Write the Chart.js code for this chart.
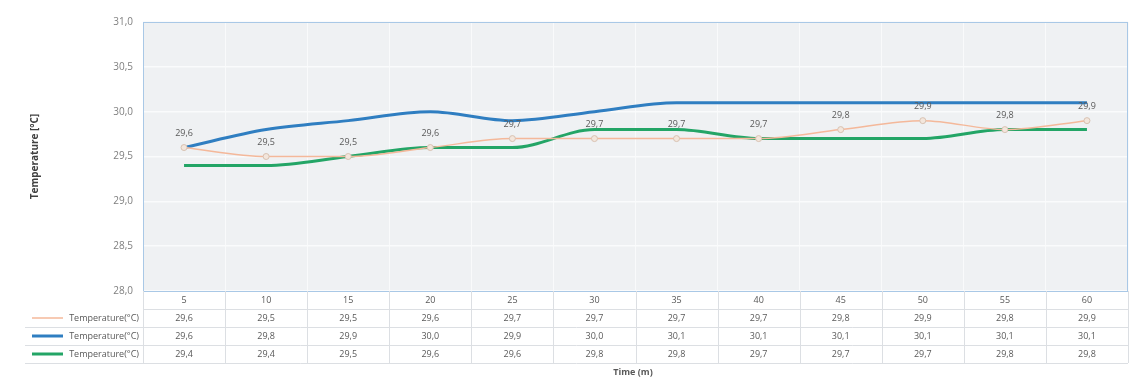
<!DOCTYPE html>
<html>
<head>
<meta charset="utf-8">
<script src="https://cdn.jsdelivr.net/npm/chart.js@4/dist/chart.umd.min.js"></script>
<style>
  html, body { margin: 0; padding: 0; background: #ffffff; }
  #wrap { width: 1143px; height: 383px; position: relative; }
</style>
</head>
<body>
<div id="wrap"><canvas id="chart" width="1143" height="383"></canvas></div>
<script>
// Sampling times (minutes)
const times = ['5', '10', '15', '20', '25', '30', '35', '40', '45', '50', '55', '60'];

// Three temperature probes, °C
const tempA = [29.6, 29.5, 29.5, 29.6, 29.7, 29.7, 29.7, 29.7, 29.8, 29.9, 29.8, 29.9];
const tempB = [29.6, 29.8, 29.9, 30.0, 29.9, 30.0, 30.1, 30.1, 30.1, 30.1, 30.1, 30.1];
const tempC = [29.4, 29.4, 29.5, 29.6, 29.6, 29.8, 29.8, 29.7, 29.7, 29.7, 29.8, 29.8];

const seriesNames = ['Temperature(°C)', 'Temperature(°C)', 'Temperature(°C)'];

// Y axis range and step
const yMin = 28.0;
const yMax = 31.0;
const yStep = 0.5;

const FONT = '"Open Sans", "Liberation Sans", sans-serif';
const colA = '#f4b89a';
const colB = '#2f7ec1';
const colC = '#23a566';

const fmt = v => v.toFixed(1).replace('.', ',');

// Shaded plot background and light blue frame
const plotFrame = {
  id: 'plotFrame',
  beforeDatasetsDraw(chart) {
    const a = chart.chartArea, ctx = chart.ctx;
    ctx.save();
    ctx.strokeStyle = '#a9c8e6';
    ctx.lineWidth = 1;
    ctx.strokeRect(a.left + 0.5, a.top + 0.5, a.right - a.left - 1, a.bottom - a.top);
    ctx.restore();
  },
  beforeDraw(chart) {
    const a = chart.chartArea, ctx = chart.ctx;
    ctx.save();
    ctx.fillStyle = '#eff1f3';
    ctx.fillRect(a.left, a.top, a.right - a.left, a.bottom - a.top);
    ctx.restore();
  }
};

// Value labels above the first series
const pointLabels = {
  id: 'pointLabels',
  afterDatasetsDraw(chart) {
    const ctx = chart.ctx;
    const meta = chart.getDatasetMeta(0);
    ctx.save();
    ctx.font = '9px ' + FONT;
    ctx.fillStyle = '#595959';
    ctx.textAlign = 'center';
    ctx.textBaseline = 'middle';
    meta.data.forEach((pt, i) => {
      ctx.fillText(fmt(chart.data.datasets[0].data[i]), pt.x, pt.y - 14);
    });
    ctx.restore();
  }
};

// Data table beneath the plot with legend keys
const dataTable = {
  id: 'dataTable',
  afterDraw(chart) {
    const ctx = chart.ctx, x = chart.scales.x, a = chart.chartArea;
    const n = times.length;
    const colW = (a.right - a.left) / n;
    const rowH = 18;
    const top = a.bottom;
    const legendLeft = 25;
    const rows = [times, tempA.map(fmt), tempB.map(fmt), tempC.map(fmt)];
    const swatch = [null, { c: colA, w: 1.5 }, { c: colB, w: 3 }, { c: colC, w: 3 }];

    ctx.save();
    ctx.strokeStyle = '#dcdfe3';
    ctx.lineWidth = 1;
    // horizontal rules
    for (let r = 1; r <= rows.length; r++) {
      const y = Math.round(top + r * rowH) + 0.5;
      ctx.beginPath();
      ctx.moveTo(r === 1 ? a.left : legendLeft, y);
      ctx.lineTo(a.right, y);
      ctx.stroke();
    }
    // vertical rules
    for (let i = 0; i <= n; i++) {
      const xx = Math.round(a.left + i * colW) + 0.5;
      ctx.beginPath();
      ctx.moveTo(xx, top);
      ctx.lineTo(xx, top + rows.length * rowH);
      ctx.stroke();
    }

    ctx.font = '9px ' + FONT;
    ctx.fillStyle = '#595959';
    ctx.textBaseline = 'middle';
    rows.forEach((row, r) => {
      const cy = top + r * rowH + rowH / 2;
      ctx.textAlign = 'center';
      row.forEach((txt, i) => {
        ctx.fillText(txt, x.getPixelForValue(i), cy);
      });
      if (r > 0) {
        const s = swatch[r];
        ctx.save();
        ctx.strokeStyle = s.c;
        ctx.lineWidth = s.w;
        ctx.beginPath();
        ctx.moveTo(32, cy);
        ctx.lineTo(63, cy);
        ctx.stroke();
        ctx.restore();
        ctx.textAlign = 'right';
        ctx.fillText(seriesNames[r - 1], a.left - 4, cy);
      }
    });

    // axis title
    ctx.font = 'bold 9px ' + FONT;
    ctx.textAlign = 'center';
    ctx.fillText('Time (m)', 633, 372);
    ctx.restore();
  }
};

new Chart(document.getElementById('chart'), {
  type: 'line',
  data: {
    labels: times,
    datasets: [
      {
        label: seriesNames[0],
        data: tempA,
        borderColor: colA,
        borderWidth: 1.5,
        pointRadius: 3,
        pointBackgroundColor: '#f3e6dc',
        pointBorderColor: '#d8c2b2',
        pointBorderWidth: 1,
        cubicInterpolationMode: 'monotone',
        order: 0
      },
      {
        label: seriesNames[1],
        data: tempB,
        borderColor: colB,
        borderWidth: 3,
        pointRadius: 0,
        cubicInterpolationMode: 'monotone',
        order: 2
      },
      {
        label: seriesNames[2],
        data: tempC,
        borderColor: colC,
        borderWidth: 3,
        pointRadius: 0,
        cubicInterpolationMode: 'monotone',
        order: 1
      }
    ]
  },
  options: {
    responsive: false,
    animation: false,
    layout: { padding: { left: 29, right: 15, top: 22, bottom: 0 } },
    plugins: {
      legend: { display: false },
      tooltip: { enabled: false }
    },
    scales: {
      x: {
        offset: true,
        grid: { offset: true, color: '#f9fafb', lineWidth: 1, drawTicks: false },
        border: { display: false },
        ticks: { display: false },
        afterFit(scale) { scale.height = 92; }
      },
      y: {
        min: yMin,
        max: yMax,
        ticks: {
          stepSize: yStep,
          color: '#7f7f7f',
          font: { family: FONT, size: 10 },
          padding: 10,
          callback: v => fmt(v)
        },
        grid: { color: '#fafbfc', lineWidth: 1.5, drawTicks: false },
        border: { display: false },
        title: {
          display: true,
          text: 'Temperature [°C]',
          color: '#404040',
          font: { family: FONT, size: 10, weight: 'bold' },
          padding: 0
        },
        afterFit(scale) { scale.width = 114; }
      }
    }
  },
  plugins: [plotFrame, pointLabels, dataTable]
});
</script>
</body>
</html>
